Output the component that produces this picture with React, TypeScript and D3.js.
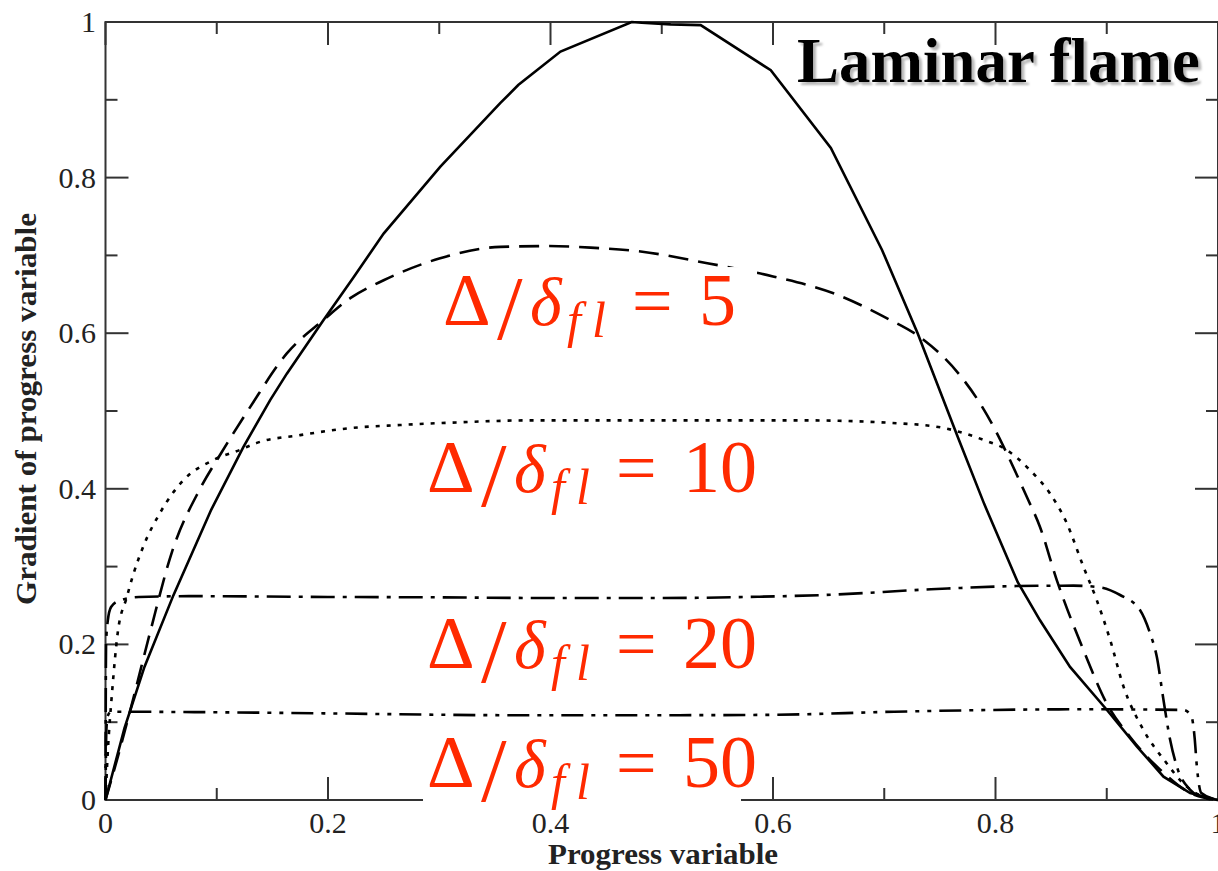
import React from "react";
import * as d3 from "d3";

// Gradient of the progress variable across a premixed flame front,
// for the laminar flame and for several filter widths Δ/δ_fl.
const laminar: [number, number][] = [
  [0, 0], [0.017, 0.092], [0.035, 0.171], [0.061, 0.263], [0.095, 0.373],
  [0.124, 0.454], [0.148, 0.514], [0.163, 0.548], [0.196, 0.617], [0.223, 0.672],
  [0.25, 0.728], [0.301, 0.814], [0.355, 0.896], [0.371, 0.919], [0.409, 0.962],
  [0.473, 1.0], [0.482, 0.999], [0.508, 0.997], [0.535, 0.996], [0.598, 0.938],
  [0.652, 0.838], [0.698, 0.707], [0.73, 0.6], [0.766, 0.467], [0.79, 0.38],
  [0.82, 0.28], [0.84, 0.231], [0.867, 0.171], [0.9, 0.116], [0.927, 0.069],
  [0.951, 0.03], [0.975, 0.009], [1, 0],
];

const filter5: [number, number][] = [
  [0, 0], [0.01, 0.05], [0.024, 0.125], [0.04, 0.215], [0.06, 0.32],
  [0.085, 0.4], [0.104, 0.446], [0.13, 0.505], [0.163, 0.574], [0.196, 0.617],
  [0.22, 0.645], [0.25, 0.668], [0.3, 0.696], [0.355, 0.711], [0.397, 0.712],
  [0.436, 0.71], [0.481, 0.705], [0.541, 0.69], [0.6, 0.673], [0.655, 0.651],
  [0.7, 0.621], [0.733, 0.594], [0.768, 0.546], [0.786, 0.51], [0.8, 0.475],
  [0.812, 0.44], [0.828, 0.39], [0.84, 0.351], [0.855, 0.283], [0.879, 0.193],
  [0.9, 0.124], [0.921, 0.081], [0.948, 0.039], [0.975, 0.009], [1, 0],
];

const filter10: [number, number][] = [
  [0, 0], [0.002, 0.06], [0.006, 0.14], [0.011, 0.215], [0.019, 0.26],
  [0.025, 0.29], [0.034, 0.326], [0.049, 0.369], [0.07, 0.411], [0.097, 0.437],
  [0.121, 0.45], [0.136, 0.459], [0.175, 0.469], [0.22, 0.478], [0.265, 0.482],
  [0.31, 0.485], [0.385, 0.488], [0.5, 0.488], [0.625, 0.488], [0.715, 0.484],
  [0.754, 0.478], [0.789, 0.463], [0.81, 0.45], [0.831, 0.424], [0.849, 0.394],
  [0.864, 0.356], [0.879, 0.3], [0.891, 0.257], [0.903, 0.206], [0.915, 0.146],
  [0.933, 0.09], [0.954, 0.047], [0.969, 0.021], [0.987, 0.004], [1, 0],
];

const filter20: [number, number][] = [
  [0, 0], [0.0005, 0.2], [0.002, 0.23], [0.005, 0.248], [0.012, 0.256],
  [0.03, 0.261], [0.08, 0.262], [0.2, 0.261], [0.3, 0.2605], [0.4, 0.2596],
  [0.5, 0.2596], [0.588, 0.2613], [0.646, 0.2635], [0.742, 0.2708], [0.82, 0.275],
  [0.87, 0.2755], [0.894, 0.2734], [0.912, 0.2635], [0.93, 0.244], [0.939, 0.214],
  [0.945, 0.184], [0.951, 0.1285], [0.957, 0.077], [0.963, 0.043], [0.975, 0.013],
  [0.987, 0.003], [1, 0],
];

const filter50: [number, number][] = [
  [0, 0], [0.0008, 0.09], [0.002, 0.108], [0.005, 0.1135], [0.08, 0.113],
  [0.196, 0.1114], [0.364, 0.109], [0.5, 0.109], [0.6, 0.1095], [0.709, 0.1135],
  [0.879, 0.1166], [0.969, 0.1157], [0.976, 0.108], [0.979, 0.08], [0.981, 0.043],
  [0.985, 0.009], [1, 0],
];

const filterRatios = ["5", "10", "20", "50"];

const xMajorTicks = [0, 0.2, 0.4, 0.6, 0.8, 1];
const xMinorTicks = [0.1, 0.3, 0.5, 0.7, 0.9];
const xTickLabels = ["0", "0.2", "0.4", "0.6", "0.8", "1"];
const yMajorTicks = [0, 0.2, 0.4, 0.6, 0.8, 1];
const yMinorTicks = [0.1, 0.3, 0.5, 0.7, 0.9];
const yTickLabels = ["0", "0.2", "0.4", "0.6", "0.8", "1"];

const W = 1218;
const H = 871;
const RED = "#ff2a00";
const INK = "#222";
const FRAME = "#333";
const SERIF = "Liberation Serif";

const xs = d3.scaleLinear().domain([0, 1]).range([105.5, 1218]);
const ys = d3.scaleLinear().domain([0, 1]).range([800, 22]);

const curves = [
  { data: laminar, dash: undefined as string | undefined, curve: d3.curveLinear },
  { data: filter5, dash: "20,10", curve: d3.curveMonotoneX },
  { data: filter10, dash: "4,7", curve: d3.curveMonotoneX },
  { data: filter20, dash: "24,8,4,8", curve: d3.curveMonotoneX },
  { data: filter50, dash: "22,8,4,8,4,8", curve: d3.curveMonotoneX },
];

// label anchors in data coordinates (left edge of Δ, baseline)
const labelAnchors: [number, number][] = [
  [0.3034, 0.6105],
  [0.289, 0.396],
  [0.289, 0.1697],
  [0.289, 0.0167],
];

// Δ/δ_fl = N, set as a single text run with subscript tspans
function RatioLabel({ left, base, value }: { left: number; base: number; value: string }) {
  return (
    <g transform={`translate(${left},${base})`}>
      <rect x={-4} y={-58} width={318} height={80} fill="#fff" />
      <text x={0} y={0} style={{ fontFamily: SERIF, fill: RED, fontSize: 74 }}>
        <tspan x={0} y={0}>Δ</tspan>
        <tspan x={54} y={14} style={{ fontSize: 92 }}>/</tspan>
        <tspan x={87} y={0} style={{ fontSize: 68, fontStyle: "italic" }}>δ</tspan>
        <tspan x={124} y={12} style={{ fontSize: 50, fontStyle: "italic" }}>f</tspan>
        <tspan x={149} y={12} style={{ fontSize: 50, fontStyle: "italic" }}>l</tspan>
        <tspan x={189} y={0} style={{ fontSize: 72 }}>=</tspan>
        <tspan x={256} y={0}>{value}</tspan>
      </text>
    </g>
  );
}

export default function App() {
  const line = (d: [number, number][], c: d3.CurveFactory) =>
    d3
      .line<[number, number]>()
      .x((p) => xs(p[0]))
      .y((p) => ys(p[1]))
      .curve(c)(d) ?? "";

  const x0 = xs(0), x1 = xs(1), y0 = ys(0), y1 = ys(1);
  const MAJ = 23, MIN = 12;

  return (
    <svg
      width={W}
      height={H}
      viewBox={`0 0 ${W} ${H}`}
      style={{ position: "absolute", left: 0, top: 0, background: "#fff" }}
    >
      <defs>
        <filter id="shadow" x="-5%" y="-20%" width="110%" height="150%">
          <feDropShadow dx="3" dy="3" stdDeviation="1.2" floodColor="#999" floodOpacity="0.7" />
        </filter>
      </defs>
      <rect x={0} y={0} width={W} height={H} fill="#fff" />

      {/* frame */}
      <rect x={x0} y={y1} width={x1 - x0} height={y0 - y1} fill="none" stroke={FRAME} strokeWidth={2} />

      {/* ticks, all four sides, pointing inward */}
      <g stroke={FRAME} strokeWidth={2}>
        {xMajorTicks.map((t) => (
          <g key={`xm${t}`}>
            <line x1={xs(t)} x2={xs(t)} y1={y0} y2={y0 - MAJ} />
            <line x1={xs(t)} x2={xs(t)} y1={y1} y2={y1 + MAJ} />
          </g>
        ))}
        {xMinorTicks.map((t) => (
          <g key={`xn${t}`}>
            <line x1={xs(t)} x2={xs(t)} y1={y0} y2={y0 - MIN} />
            <line x1={xs(t)} x2={xs(t)} y1={y1} y2={y1 + MIN} />
          </g>
        ))}
        {yMajorTicks.map((t) => (
          <g key={`ym${t}`}>
            <line x1={x0} x2={x0 + MAJ} y1={ys(t)} y2={ys(t)} />
            <line x1={x1} x2={x1 - MAJ} y1={ys(t)} y2={ys(t)} />
          </g>
        ))}
        {yMinorTicks.map((t) => (
          <g key={`yn${t}`}>
            <line x1={x0} x2={x0 + MIN} y1={ys(t)} y2={ys(t)} />
            <line x1={x1} x2={x1 - MIN} y1={ys(t)} y2={ys(t)} />
          </g>
        ))}
      </g>

      {/* tick labels */}
      <g style={{ fontFamily: SERIF, fontSize: 30, fill: INK }}>
        {xMajorTicks.map((t, i) => (
          <text key={`xl${t}`} x={xs(t)} y={833} textAnchor="middle">
            {xTickLabels[i]}
          </text>
        ))}
        {yMajorTicks.map((t, i) => (
          <text key={`yl${t}`} x={96} y={ys(t) + 10} textAnchor="end">
            {yTickLabels[i]}
          </text>
        ))}
      </g>

      {/* axis titles */}
      <text
        x={663}
        y={864}
        textAnchor="middle"
        textLength={230}
        lengthAdjust="spacingAndGlyphs"
        style={{ fontFamily: SERIF, fontWeight: "bold", fontSize: 29, fill: INK }}
      >
        Progress variable
      </text>
      <text
        transform="translate(36,409) rotate(-90)"
        textAnchor="middle"
        textLength={392}
        lengthAdjust="spacingAndGlyphs"
        style={{ fontFamily: SERIF, fontWeight: "bold", fontSize: 30, fill: INK }}
      >
        Gradient of progress variable
      </text>

      {/* curves */}
      <g fill="none" stroke="#000" strokeWidth={2.6}>
        {curves.map((c, i) => (
          <path key={i} d={line(c.data, c.curve)} strokeDasharray={c.dash} />
        ))}
      </g>

      {/* filter-width labels */}
      {filterRatios.map((r, i) => (
        <RatioLabel key={r} left={xs(labelAnchors[i][0])} base={ys(labelAnchors[i][1])} value={r} />
      ))}

      {/* title with drop shadow */}
      <text
        x={797}
        y={82}
        filter="url(#shadow)"
        style={{ fontFamily: SERIF, fontWeight: "bold", fontSize: 63, fill: "#000" }}
      >
        Laminar flame
      </text>
    </svg>
  );
}
